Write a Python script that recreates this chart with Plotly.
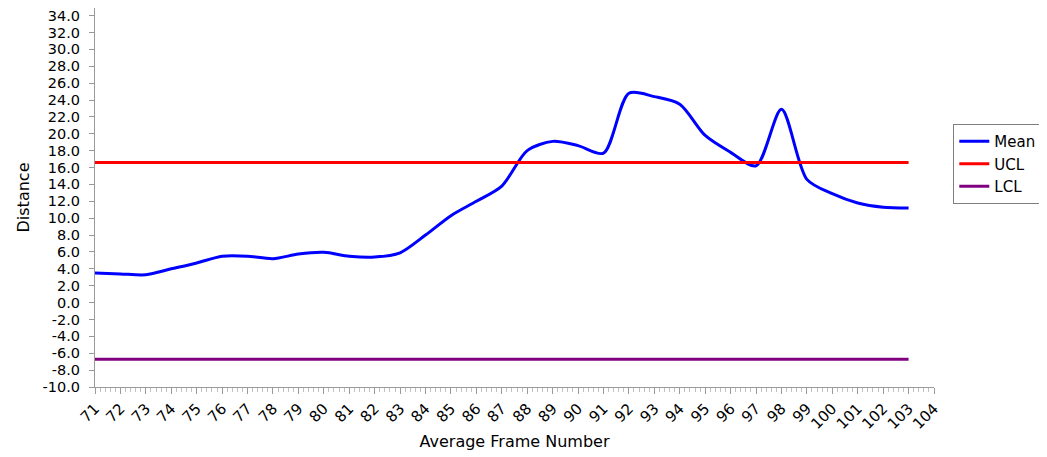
import plotly.graph_objects as go

# Frame numbers and control chart values
frames = list(range(71, 104))
mean_distance = [3.5, 3.4, 3.3, 4.0, 4.7, 5.5, 5.5, 5.2, 5.75, 5.95,
                 5.5, 5.4, 5.9, 8.0, 10.3, 12.0, 13.8, 18.0, 19.1, 18.6,
                 17.7, 24.8, 24.4, 23.5, 19.8, 17.8, 16.2, 22.9, 14.6, 12.9,
                 11.8, 11.3, 11.2]
ucl_value = 16.6
lcl_value = -6.7
ucl = [ucl_value] * len(frames)
lcl = [lcl_value] * len(frames)

y_ticks = list(range(-10, 35, 2))
x_ticks = list(range(71, 105))

font_family = "DejaVu Sans, Arial, sans-serif"
axis_gray = "#9a9a9a"

fig = go.Figure()

fig.add_trace(go.Scatter(x=frames, y=mean_distance, name="Mean", mode="lines",
                         line=dict(color="#0000ff", width=3, shape="spline", smoothing=0.8)))
fig.add_trace(go.Scatter(x=frames, y=ucl, name="UCL", mode="lines",
                         line=dict(color="#ff0000", width=3)))
fig.add_trace(go.Scatter(x=frames, y=lcl, name="LCL", mode="lines",
                         line=dict(color="#800080", width=3)))

# page body has an 8px margin, so the figure is a bit smaller than the window
fig.update_layout(
    width=1039, height=449,
    margin=dict(l=87, r=113, t=0, b=70),
    plot_bgcolor="white", paper_bgcolor="white",
    font=dict(family=font_family, size=15, color="black"),
    legend=dict(x=1.023, y=0.694, xanchor="left", yanchor="top",
                bordercolor="#7f7f7f", borderwidth=1,
                font=dict(size=15), itemwidth=30, tracegroupgap=0),
)

fig.update_xaxes(
    range=[71, 104], tickvals=x_ticks, ticktext=[str(v) for v in x_ticks],
    tickangle=-45, ticks="outside", ticklen=6, tickcolor=axis_gray,
    showline=True, linecolor=axis_gray, linewidth=1, showgrid=False, zeroline=False,
    minor=dict(dtick=0.2, ticks="outside", ticklen=4, tickcolor="#c0c0c0", showgrid=False),
    tickfont=dict(size=15), automargin=False,
    title=dict(text="Average Frame Number", font=dict(size=16), standoff=3),
)

fig.update_yaxes(
    range=[-10, 34.9], tickvals=y_ticks, ticktext=[f"{v:.1f}" for v in y_ticks],
    ticks="outside", ticklen=5, tickcolor=axis_gray, ticklabelstandoff=6,
    ticklabeloverflow="allow",
    showline=True, linecolor=axis_gray, linewidth=1, showgrid=False, zeroline=False,
    tickfont=dict(size=14.5), automargin=False,
    title=dict(text="Distance", font=dict(size=16), standoff=8),
)

fig.write_html("out.html")
